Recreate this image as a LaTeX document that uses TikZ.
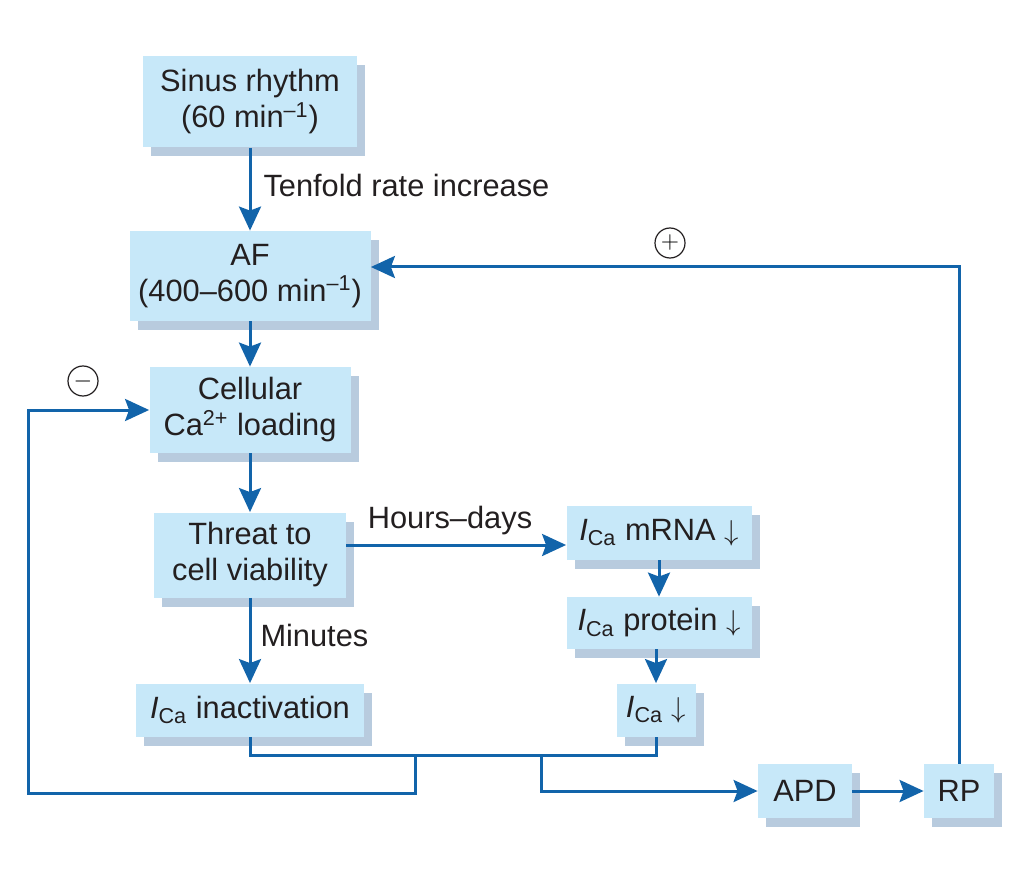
\documentclass[tikz,border=0pt]{standalone}
\usepackage{fontspec}
\setmainfont{Liberation Sans}
\usetikzlibrary{arrows.meta,shadows}
\definecolor{boxfill}{RGB}{199,232,249}
\definecolor{boxshade}{RGB}{184,203,222}
\definecolor{flowblue}{RGB}{18,100,170}
\definecolor{ink}{RGB}{35,31,32}
\newcommand{\Ica}{\textit{I}\textsubscript{Ca}}

\begin{document}
\begin{tikzpicture}[x=0.5pt,y=-0.5pt,
      box/.style={fill=boxfill,text=ink,align=center,inner sep=0pt,font=\fontsize{15.4}{18}\selectfont,
                  drop shadow={shadow xshift=4pt,shadow yshift=-4.5pt,fill=boxshade,opacity=1}},
      flow/.style={draw=flowblue,line width=1.5pt},
      arr/.style={flow,-{Stealth[length=12pt,width=11pt,inset=2pt]}},
      lbl/.style={text=ink,inner sep=0pt,font=\fontsize{15.4}{18}\selectfont},
      sign/.style={circle,draw=ink,line width=0.6pt,inner sep=0pt,minimum size=15pt,font=\fontsize{12}{12}\selectfont}]
                  \useasboundingbox (0,0) rectangle (1028,882);
                  \node[box,minimum width=107pt,minimum height=45.5pt] (sr) at (250,102) {Sinus rhythm\\(60 min\textsuperscript{–1})};
                  \node[box,minimum width=120.5pt,minimum height=45pt] (af) at (250,276) {AF\\(400–600 min\textsuperscript{–1})};
                  \node[box,minimum width=100.5pt,minimum height=43pt] (ca) at (250,410) {Cellular\\Ca\textsuperscript{2+} loading};
                  \node[box,minimum width=96pt,minimum height=42.5pt] (th) at (250,555) {Threat to\\cell viability};
                  \node[box,minimum width=114pt,minimum height=26.5pt] (ia) at (250,710) {\Ica{} inactivation};
                  \node[box,minimum width=92.5pt,minimum height=27pt] (mr) at (659,533) {\Ica{} mRNA $\downarrow$};
                  \node[box,minimum width=92.5pt,minimum height=26pt] (pr) at (659,623) {\Ica{} protein $\downarrow$};
                  \node[box,minimum width=39.5pt,minimum height=26.5pt] (ic) at (656,710) {\Ica{} $\downarrow$};
                  \node[box,minimum width=47pt,minimum height=27pt] (apd) at (805,791) {APD};
                  \node[box,minimum width=35pt,minimum height=27pt] (rp) at (959,791) {RP};
                  \coordinate (jl) at (415,755);
                  \coordinate (jr) at (541,755);
                  \coordinate (nl) at (28,793);
                    \draw[arr] (sr) -- (af) node[lbl,anchor=west] at (262,185) {Tenfold rate increase};
                    \draw[arr] (af) -- (ca);
                    \draw[arr] (ca) -- (th);
                    \draw[arr] (th) -- (ia) node[lbl,anchor=west] at (259,635) {Minutes};
                    \draw[arr] ([yshift=5pt]th.east) -- ([yshift=5pt]th.east -| mr.west) node[lbl] at (450,521) {Hours–days};
                    \draw[arr] (mr) -- (pr);
                    \draw[arr] (pr.south -| ic) -- (ic);
                    \draw[flow] (ia.south) |- (jl) -- (jr) -| (ic.south);
                    \draw[arr] (jl) |- (nl) |- (ca.west);
                    \draw[arr] (jr) |- (apd.west);
                    \draw[arr] (apd) -- (rp);
                    \draw[arr] (rp.north) |- ([yshift=4.5pt]af.east);
                  \node[sign] (plus) at (670,243) {$+$};
                  \node[sign] (minus) at (83,381) {$-$};
\end{tikzpicture}
\end{document}
